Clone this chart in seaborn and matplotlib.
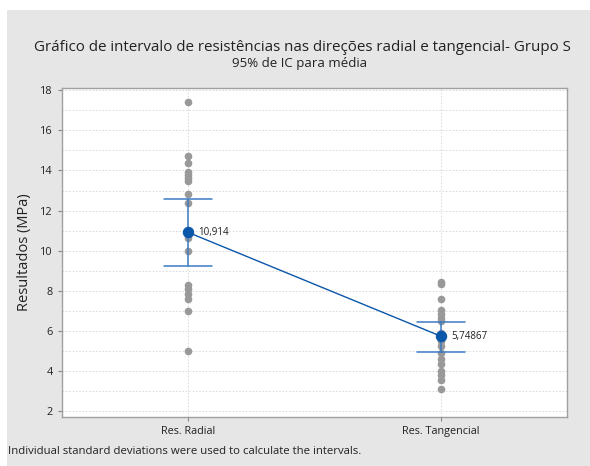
import numpy as np
import pandas as pd
import matplotlib
matplotlib.use("Agg")
import matplotlib.pyplot as plt
import seaborn as sns
from matplotlib.patches import Rectangle
from matplotlib.ticker import MultipleLocator

# data
categories = ["Res. Radial", "Res. Tangencial"]
radial = [17.4, 14.7, 14.35, 13.9, 13.75, 13.6, 13.45, 12.85, 12.4, 11.0,
          10.85, 10.63, 9.97, 8.3, 8.1, 7.85, 7.6, 7.0, 5.0]
tangencial = [8.45, 8.35, 7.6, 7.05, 6.85, 6.65, 6.5, 5.9, 5.7, 5.5, 5.27,
              4.9, 4.6, 4.35, 4.0, 3.8, 3.55, 3.1]
means = [10.914, 5.74867]
mean_labels = ["10,914", "5,74867"]
ci_low = [9.24, 4.98]
ci_high = [12.58, 6.47]

df = pd.DataFrame({
    "grupo": [categories[0]] * len(radial) + [categories[1]] * len(tangencial),
    "valor": radial + tangencial,
})
df_mean = pd.DataFrame({"grupo": categories, "valor": means})

sns.set_style("white")
plt.rcParams["font.family"] = ["Open Sans", "DejaVu Sans"]

bg = "#e6e6e6"
blue = "#0a56a8"
ci_blue = "#3a7cc4"

fig = plt.figure(figsize=(5.9, 4.66), dpi=100, facecolor="white")
# grey panel (white margin on the top and left edge)
fig.patches.append(Rectangle((7 / 590, 0), 1 - 7 / 590, 1 - 10 / 466,
                             transform=fig.transFigure, facecolor=bg,
                             edgecolor="none", zorder=-10))
ax = fig.add_axes([0.105, 0.105, 0.856, 0.706])
ax.set_facecolor("white")

sns.stripplot(data=df, x="grupo", y="valor", order=categories, jitter=False,
              color="#999999", size=5.5, linewidth=0, ax=ax, zorder=3)

# CI bars
for i in range(len(categories)):
    ax.plot([i, i], [ci_low[i], ci_high[i]], color=ci_blue, lw=1.1, zorder=4)
    for yv in (ci_low[i], ci_high[i]):
        ax.plot([i - 0.095, i + 0.095], [yv, yv], color=ci_blue, lw=1.1, zorder=4)

sns.pointplot(data=df_mean, x="grupo", y="valor", order=categories,
              errorbar=None, color=blue, markers="o", markersize=7.5,
              linewidth=1.0, ax=ax, zorder=5)

for i, (m, lab) in enumerate(zip(means, mean_labels)):
    ax.text(i + 0.04, m, lab, fontsize=7, va="center", ha="left",
            color="#222222", zorder=6)

ax.set_xlim(-0.5, 1.5)
ax.set_ylim(1.72, 18.1)
ax.yaxis.set_major_locator(MultipleLocator(2))
ax.yaxis.set_minor_locator(MultipleLocator(1))
ax.grid(True, which="both", axis="y", linestyle=(0, (2, 2)), color="#d6d6d6", lw=0.6)
ax.grid(True, which="major", axis="x", linestyle=(0, (2, 2)), color="#d6d6d6", lw=0.6)
ax.set_axisbelow(True)

ax.set_xlabel("")
ax.set_ylabel("Resultados (MPa)", fontsize=10.5, color="#222222", labelpad=6)
ax.tick_params(axis="both", which="major", labelsize=7.8, length=3,
               color="#888888", labelcolor="#222222", left=True, bottom=True)
ax.tick_params(axis="y", which="minor", length=0)
for s in ax.spines.values():
    s.set_color("#a0a0a0")
    s.set_linewidth(1.0)

fig.text(0.513, 0.899, "Gráfico de intervalo de resistências nas direções radial e tangencial- Grupo S",
         ha="center", va="center", fontsize=10.9, color="#222222")
fig.text(0.508, 0.863, "95% de IC para média", ha="center", va="center",
         fontsize=9.5, color="#222222")
fig.text(0.014, 0.032, "Individual standard deviations were used to calculate the intervals.",
         ha="left", va="center", fontsize=8.2, color="#222222")

fig.savefig("out.png", dpi=100, facecolor="white")
